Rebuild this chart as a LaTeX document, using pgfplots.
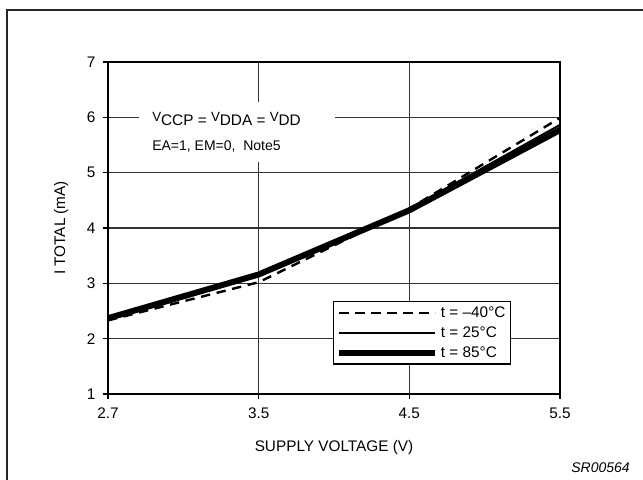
\documentclass[border=0pt]{standalone}
\usepackage{pgfplots}
\pgfplotsset{compat=1.18}
\usepackage{fontspec}
\setmainfont{Liberation Sans}
\begin{document}
\begin{tikzpicture}[x=0.75pt,y=0.75pt]
\useasboundingbox (0,0) rectangle (643,479);
\draw[line width=1.1pt, black!85] (7,-2) -- (7,469) -- (645,469);
\coordinate (AX) at (108,85);
\begin{axis}[
  at={(AX)}, anchor=south west,
  scale only axis, width=339pt, height=249pt,
  xmin=0, xmax=3, ymin=1, ymax=7,
  xtick={0,1,2,3}, xticklabels={2.7,3.5,4.5,5.5},
  ytick={1,2,3,4,5,6,7},
  xtick pos=left, ytick pos=left,
  tick align=outside, major tick length=4pt,
  tick style={line width=0.9pt, black},
  grid=major, grid style={line width=0.9pt, black!80},
  axis line style={line width=1pt},
  /pgf/number format/assume math mode=true,
  tick label style={font=\fontsize{11.5}{13}\selectfont},
  xticklabel style={yshift=-3pt},
  yticklabel style={xshift=-2pt},
  label style={font=\fontsize{11.5}{13}\selectfont},
  xlabel style={yshift=-9pt},
  ylabel style={yshift=7pt},
  xlabel={SUPPLY VOLTAGE (V)}, ylabel={I TOTAL (mA)},
  legend style={at={(0.498,0.279)}, anchor=north west, draw=black, line width=0.8pt,
    font=\fontsize{11.5}{13}\selectfont, inner xsep=2pt, inner ysep=1.5pt, row sep=1.5pt,
    cells={anchor=west}},
  legend image code/.code={\draw[#1] (0pt,0pt) -- (72pt,0pt);},
]
\addplot[black, line width=1.8pt, dash pattern=on 7pt off 5pt] coordinates {(0,2.33) (1,3.02) (2,4.35) (3,5.99)};
\addlegendentry{t = --40°C}
\addplot[black, line width=1.8pt] coordinates {(0,2.37) (1,3.15) (2,4.34) (3,5.86)};
\addlegendentry{t = 25°C}
\addplot[black, line width=4.5pt] coordinates {(0,2.37) (1,3.16) (2,4.32) (3,5.77)};
\addlegendentry{t = 85°C}
\end{axis}
\node[fill=white, inner sep=0pt, minimum width=147pt, minimum height=45pt] at (236.5,347) {};
\node[anchor=base west, inner sep=0pt, font=\fontsize{11.5}{13}\selectfont] at (152,353)
  {\raisebox{0.55ex}{\fontsize{10}{12}\selectfont V}CCP = \raisebox{0.55ex}{\fontsize{10}{12}\selectfont V}DDA = \raisebox{0.55ex}{\fontsize{10}{12}\selectfont V}DD};
\node[anchor=base west, inner sep=0pt, font=\fontsize{10.5}{12}\selectfont] at (152,328) {EA=1, EM=0,~~Note5};
\node[anchor=base east, inner sep=0pt, font=\fontsize{10.5}{13}\selectfont\itshape] at (630,7) {SR00564};
\end{tikzpicture}
\end{document}
